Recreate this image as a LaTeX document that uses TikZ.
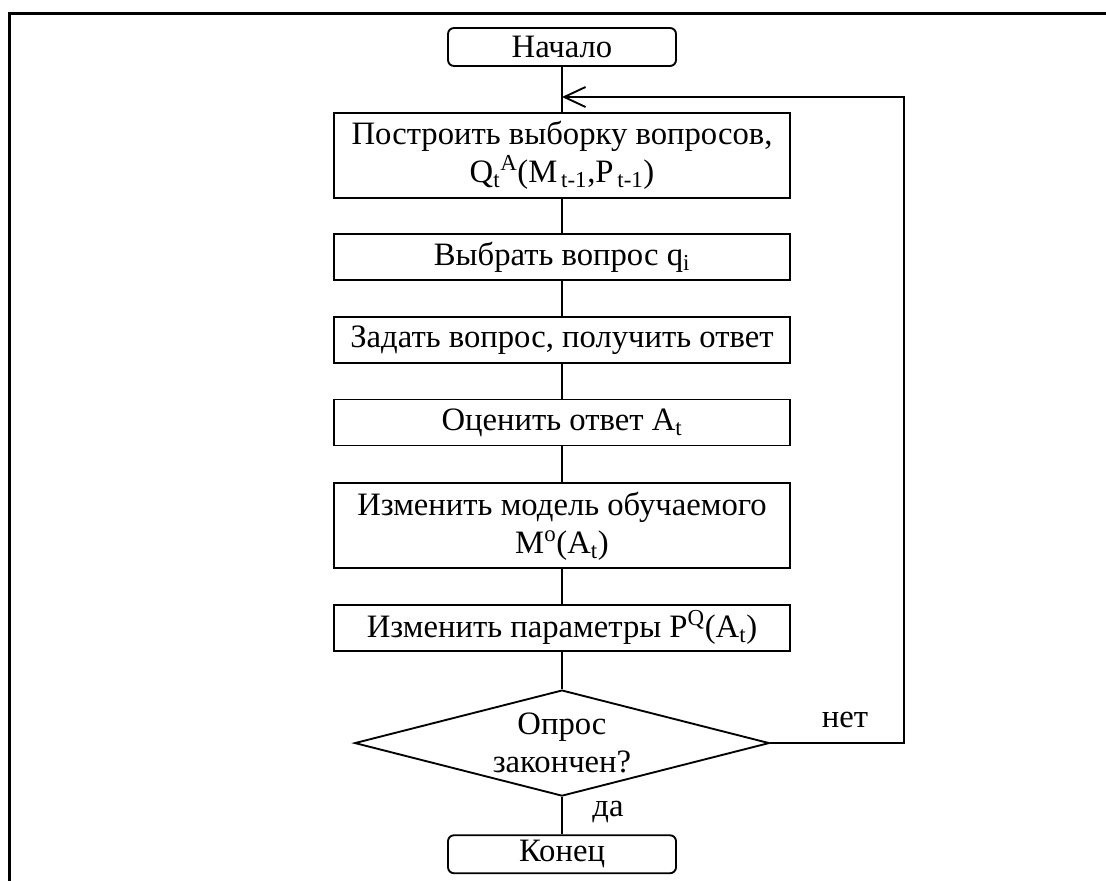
\documentclass[tikz,border=0pt]{standalone}
\usepackage{fontspec}
\setmainfont{Liberation Serif}
\usetikzlibrary{arrows.meta,positioning,shapes.geometric}

\begin{document}
\begin{tikzpicture}[
  x=0.75pt, y=-0.75pt, line width=1.4pt,
  every node/.style={font=\fontsize{24.5}{28.5}\selectfont, align=center, inner sep=1pt},
  procbox/.style={rectangle, draw, minimum width=342pt, minimum height=34.5pt},
  termbox/.style={rectangle, draw, rounded corners=4.5pt, minimum width=171pt, minimum height=28.5pt},
  decision/.style={diamond, draw, aspect=3.9, inner sep=0pt, minimum width=311pt, minimum height=79.5pt},
  node distance=26pt
]
\useasboundingbox (0,0) rectangle (1106,881);
% frame
\draw[line width=2.25pt] (1106,14) -- (9,14) -- (9,881);

\node[termbox] (start) at (562,47) {Начало};
\node[procbox, minimum height=63.75pt, below=33.75pt of start] (sample)
  {Построить выборку вопросов,\\
   Q\textsubscript{t}\textsuperscript{A}(M\textsubscript{\,t-1},P\textsubscript{\,t-1})};
\node[procbox, below=of sample] (choose) {Выбрать вопрос q\textsubscript{i}};
\node[procbox, below=of choose] (ask) {Задать вопрос, получить ответ};
\node[procbox, below=of ask] (rate) {Оценить ответ A\textsubscript{t}};
\node[procbox, minimum height=63.75pt, below=27pt of rate] (model)
  {Изменить модель обучаемого\\ M\textsuperscript{o}(A\textsubscript{t})};
\node[procbox, below=of model] (params) {Изменить параметры P\textsuperscript{Q}(A\textsubscript{t})};
\node[decision, below=28pt of params] (check) {Опрос\\ закончен?};
\node[termbox, below=28pt of check] (stop) {Конец};

\coordinate (merge) at (562,97);
\node (no) at (845,720) {нет};
\node (yes) at (608,812) {да};

\draw (start) -- (sample);
\draw (sample) -- (choose);
\draw (choose) -- (ask);
\draw (ask) -- (rate);
\draw (rate) -- (model);
\draw (model) -- (params);
\draw (params) -- (check);
\draw (check) -- (stop);
\draw[-{Straight Barb[length=16pt,width=15pt]}] (check.east) -- ++(100pt,0) |- (merge);
\end{tikzpicture}
\end{document}
